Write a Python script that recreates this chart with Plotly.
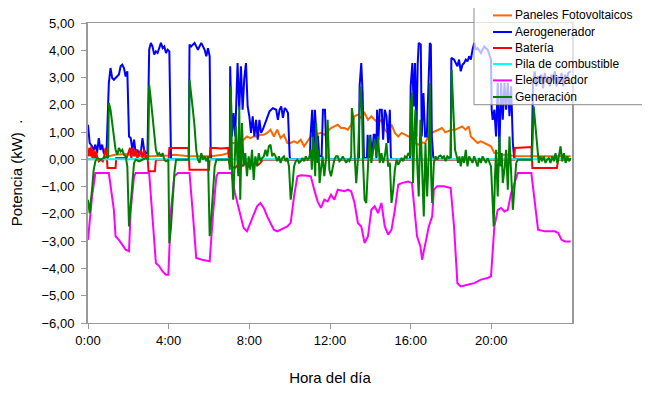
import plotly.graph_objects as go

# time in minutes after midnight, value in kW
paneles = [(0,0.0),(55,0.0),(60,0.11),(80,0.17),(110,0.20),(140,0.14),(175,0.11),(190,0.11),(240,0.14),(257,0.17),(280,0.14),(300,0.11),(340,0.11),(367,0.11),(400,0.17),(417,0.23),(422,0.40),(427,0.60),(440,0.60),(453,0.60),(463,0.72),(473,0.84),(483,0.78),(493,0.84),(503,0.84),(513,0.90),(523,0.90),(533,0.97),(543,1.09),(553,0.84),(563,1.09),(573,0.78),(583,0.90),(593,0.60),(603,0.60),(613,0.66),(623,0.60),(633,0.72),(643,0.48),(653,0.66),(663,0.84),(673,0.90),(693,0.97),(703,0.90),(713,1.03),(723,1.15),(733,1.21),(743,1.27),(753,1.15),(763,1.15),(773,1.09),(783,1.27),(793,1.58),(803,1.64),(813,1.52),(823,1.70),(833,1.45),(843,1.58),(853,1.45),(863,1.33),(873,1.45),(883,1.09),(893,0.97),(903,1.27),(913,0.97),(923,0.84),(933,0.97),(943,0.90),(953,0.84),(963,0.78),(973,0.60),(983,0.54),(993,0.62),(1003,0.60),(1013,0.84),(1023,0.97),(1033,1.03),(1043,1.09),(1053,1.15),(1063,0.99),(1073,1.03),(1083,1.09),(1093,1.09),(1103,1.15),(1113,1.21),(1123,1.09),(1133,1.21),(1139,0.84),(1149,0.72),(1159,0.60),(1169,0.66),(1179,0.60),(1189,0.54),(1199,0.48),(1209,0.23),(1219,0.23),(1229,0.17),(1249,0.17),(1269,0.11),(1329,0.11),(1379,0.11),(1436,0.11)]

aerogenerador = [(0,1.27),(5,0.60),(12,0.48),(17,0.35),(22,0.54),(27,0.23),(32,0.78),(37,0.35),(42,0.54),(47,0.23),(55,0.23),(62,2.80),(67,3.35),(72,2.98),(77,2.92),(87,3.04),(92,3.11),(97,3.41),(102,3.47),(107,3.35),(112,3.04),(117,3.23),(122,0.84),(127,0.78),(132,0.35),(137,0.72),(142,0.23),(147,0.35),(152,0.17),(157,0.23),(162,0.78),(167,0.35),(172,0.23),(177,0.23),(182,4.02),(187,4.27),(192,4.14),(197,3.84),(202,3.96),(207,3.90),(212,4.08),(217,4.27),(222,4.08),(227,4.14),(232,3.90),(237,4.02),(242,3.96),(245,0.23),(247,0.0),(300,0.0),(302,4.21),(307,4.14),(317,4.27),(327,4.02),(337,4.27),(347,4.02),(352,3.78),(357,4.08),(362,3.78),(365,0.23),(367,0.0),(422,0.0),(423,3.41),(428,0.84),(433,1.70),(438,0.84),(445,3.53),(450,1.82),(455,3.41),(460,1.82),(465,2.98),(470,3.53),(475,1.94),(480,1.58),(485,0.97),(490,1.58),(495,0.84),(500,1.45),(505,0.72),(510,1.45),(515,0.97),(520,1.09),(525,1.27),(530,1.45),(535,1.64),(540,1.76),(545,1.82),(550,1.88),(560,1.82),(565,1.45),(570,1.82),(575,1.94),(580,1.52),(585,1.88),(590,1.82),(595,1.70),(600,0.11),(602,0.0),(660,0.0),(662,0.84),(667,1.82),(671,0.11),(675,1.82),(680,0.84),(684,0.84),(688,0.11),(695,0.11),(699,1.82),(705,1.82),(708,0.11),(710,0.0),(806,0.0),(808,2.68),(813,3.53),(817,2.43),(821,0.05),(830,0.05),(832,0.90),(836,0.05),(840,0.90),(845,0.05),(850,0.90),(855,0.90),(858,0.05),(860,1.82),(864,0.72),(868,1.82),(874,1.82),(878,0.72),(883,1.82),(888,1.58),(893,0.60),(898,1.82),(901,0.11),(903,0.0),(958,0.0),(960,2.68),(965,3.53),(969,1.94),(973,3.53),(977,0.84),(981,3.53),(984,4.27),(990,4.21),(993,0.84),(998,2.43),(1003,0.84),(1008,0.84),(1013,2.43),(1017,4.27),(1020,4.21),(1023,0.84),(1027,0.11),(1029,0.0),(1079,0.0),(1081,3.72),(1089,3.66),(1099,3.41),(1104,3.66),(1109,3.23),(1114,3.47),(1119,3.53),(1124,3.66),(1129,3.59),(1134,3.78),(1139,3.66),(1144,4.02),(1149,4.27),(1154,4.02),(1159,4.08),(1169,3.90),(1179,4.14),(1189,4.02),(1199,3.66),(1201,1.82),(1204,1.45),(1209,1.82),(1214,0.84),(1219,2.80),(1224,0.35),(1229,2.80),(1234,1.45),(1239,2.80),(1244,1.82),(1249,2.80),(1254,1.58),(1259,2.68),(1264,0.60),(1268,0.05),(1270,0.0),(1320,0.0),(1324,2.80),(1329,3.23),(1334,2.68),(1339,3.04),(1344,2.80),(1349,3.11),(1354,2.60),(1359,3.17),(1364,2.80),(1369,3.04),(1374,2.68),(1379,3.11),(1384,2.90),(1389,3.23),(1394,2.68),(1399,3.04),(1404,2.80),(1409,3.17),(1414,2.68),(1419,3.11),(1424,2.90),(1429,3.17),(1436,3.23)]

bateria = [(0,0.11),(4,0.42),(7,0.11),(10,0.48),(13,0.05),(17,0.35),(20,-0.01),(24,0.29),(28,0.05),(32,-0.07),(38,-0.01),(44,-0.07),(48,0.11),(52,0.42),(56,0.11),(58,-0.32),(82,-0.32),(84,0.05),(115,0.05),(120,0.23),(125,0.42),(129,0.05),(133,0.42),(138,0.11),(142,0.35),(147,0.05),(152,0.17),(157,0.35),(162,0.05),(167,0.35),(172,0.05),(177,0.17),(180,-0.44),(199,-0.44),(202,-0.01),(240,-0.01),(242,0.42),(270,0.40),(280,0.42),(299,0.42),(302,-0.38),(360,-0.38),(364,0.42),(380,0.42),(395,0.40),(417,0.42),(420,-0.13),(427,-0.26),(437,-0.32),(447,-0.20),(457,-0.26),(467,-0.13),(477,-0.26),(487,-0.20),(497,-0.13),(507,-0.20),(513,-0.13),(520,-0.01),(1268,-0.01),(1270,0.42),(1320,0.45),(1322,-0.32),(1395,-0.32),(1399,-0.01),(1436,-0.01)]

pila = [(0,0.0),(1436,0.0)]

electrolizador = [(0,-2.95),(12,-1.36),(22,-0.50),(62,-0.50),(77,-1.85),(82,-2.82),(92,-2.95),(102,-3.13),(112,-3.31),(122,-3.37),(127,-1.85),(137,-0.62),(142,-0.50),(182,-0.50),(192,-2.09),(202,-3.80),(212,-3.92),(222,-4.11),(232,-4.23),(239,-4.23),(247,-1.85),(257,-0.62),(267,-0.50),(302,-0.50),(312,-2.0),(322,-3.62),(340,-3.68),(362,-3.74),(372,-2.0),(382,-0.62),(387,-0.50),(427,-0.50),(437,-1.23),(447,-1.72),(453,-2.09),(463,-2.52),(473,-2.64),(483,-2.33),(493,-1.97),(503,-1.72),(513,-1.60),(523,-1.78),(533,-2.09),(543,-2.33),(553,-2.58),(563,-2.64),(578,-2.56),(593,-2.46),(603,-2.33),(613,-1.36),(623,-0.62),(633,-0.58),(653,-0.60),(663,-0.62),(673,-1.11),(683,-1.54),(693,-1.78),(703,-1.48),(713,-1.54),(723,-1.30),(733,-1.48),(743,-1.11),(753,-1.14),(763,-1.17),(773,-1.11),(783,-1.17),(793,-1.60),(803,-2.33),(813,-2.46),(823,-3.07),(833,-2.82),(843,-1.85),(853,-1.72),(863,-1.97),(873,-1.60),(883,-2.46),(893,-2.76),(903,-2.58),(913,-1.85),(923,-0.93),(933,-0.87),(953,-0.81),(964,-0.87),(969,-1.48),(979,-2.82),(989,-3.19),(994,-3.68),(1004,-3.07),(1014,-2.46),(1024,-2.09),(1029,-1.11),(1039,-0.99),(1059,-0.99),(1079,-1.05),(1089,-2.46),(1099,-4.54),(1109,-4.66),(1129,-4.60),(1149,-4.54),(1169,-4.41),(1189,-4.35),(1199,-4.29),(1209,-2.46),(1219,-1.85),(1229,-1.78),(1239,-1.91),(1249,-1.85),(1259,-1.23),(1279,-0.50),(1319,-0.50),(1329,-1.60),(1339,-2.58),(1359,-2.64),(1389,-2.64),(1399,-2.70),(1409,-2.95),(1419,-3.01),(1436,-3.01)]

generacion = [(0,-1.48),(5,-1.97),(12,-1.11),(17,-0.38),(22,-0.07),(27,0.05),(37,-0.01),(47,0.05),(57,0.11),(60,0.05),(62,2.07),(67,1.82),(72,1.21),(77,0.84),(82,0.35),(87,0.17),(92,0.42),(97,0.29),(102,0.35),(107,0.17),(112,0.11),(117,-0.26),(122,-2.46),(127,-1.48),(132,-0.87),(137,-0.13),(142,-0.01),(152,-0.07),(162,-0.01),(172,0.05),(179,-0.01),(182,2.74),(187,2.19),(192,1.58),(197,0.84),(202,0.35),(207,0.17),(212,0.23),(217,0.11),(222,0.23),(227,-0.01),(232,-0.07),(239,-0.01),(242,-3.07),(247,-2.46),(252,-1.36),(257,-0.50),(262,-0.01),(300,-0.01),(302,2.92),(307,2.43),(312,1.82),(317,1.21),(322,0.35),(327,-0.01),(332,-0.13),(337,0.23),(342,-0.01),(347,0.11),(352,-0.07),(357,0.11),(362,-2.82),(367,-2.09),(372,-1.11),(377,-0.26),(382,-0.01),(420,-0.01),(422,-0.38),(425,2.68),(429,-0.62),(432,-1.48),(437,0.11),(440,1.21),(445,-0.13),(447,-0.62),(450,1.94),(453,-1.48),(458,1.33),(463,-0.26),(468,0.23),(473,-0.62),(478,0.11),(483,-0.38),(488,0.35),(493,-0.75),(498,0.11),(503,-0.26),(508,0.23),(513,-0.07),(518,0.05),(523,0.11),(528,0.35),(533,0.11),(538,0.48),(543,0.54),(548,0.11),(553,0.23),(558,0.11),(563,-0.07),(568,0.11),(573,-0.13),(578,0.05),(583,0.11),(588,-0.07),(593,0.05),(598,-0.26),(603,-1.48),(608,-0.99),(613,-0.26),(618,-0.07),(623,-0.01),(628,-0.13),(633,-0.07),(638,0.05),(643,-0.07),(648,0.11),(653,-0.01),(658,0.05),(663,0.35),(666,-0.38),(669,0.84),(673,0.11),(676,-0.62),(679,1.33),(683,-0.13),(686,0.35),(689,-0.87),(693,-0.38),(698,0.11),(703,-0.62),(708,-0.01),(713,1.45),(718,-0.38),(723,-0.62),(728,-0.26),(733,-0.01),(738,0.11),(743,0.11),(748,-0.07),(753,-0.01),(758,0.11),(763,-0.01),(768,-0.13),(773,-0.01),(778,-0.07),(783,0.11),(785,1.88),(790,1.45),(793,0.23),(798,-0.87),(803,-0.01),(808,1.82),(811,2.68),(815,1.82),(818,-0.01),(823,-1.48),(828,-1.60),(833,-0.26),(838,0.84),(843,-0.13),(848,0.23),(853,0.72),(858,0.11),(863,0.84),(868,-0.13),(873,0.23),(878,-0.13),(883,0.11),(888,0.60),(893,-0.26),(898,-0.13),(903,-1.60),(908,-1.11),(913,-0.38),(918,-0.01),(923,-0.20),(928,-0.07),(933,0.05),(938,-0.07),(943,0.11),(948,0.05),(953,0.23),(959,0.11),(961,2.07),(964,2.43),(967,-0.87),(971,0.84),(974,1.82),(979,-0.01),(984,-1.36),(989,1.45),(994,-0.62),(999,-2.09),(1004,0.60),(1009,-1.36),(1014,0.23),(1017,2.80),(1021,-0.62),(1024,-1.60),(1029,-0.13),(1034,0.11),(1039,-0.01),(1044,0.11),(1049,0.14),(1054,0.05),(1059,0.11),(1064,-0.07),(1069,0.11),(1074,0.05),(1079,0.11),(1082,3.29),(1087,1.82),(1092,0.35),(1097,0.11),(1101,-0.13),(1105,0.11),(1109,-0.26),(1114,0.11),(1119,-0.13),(1124,0.35),(1129,-0.26),(1134,0.11),(1139,-0.01),(1144,-0.13),(1149,0.11),(1154,-0.07),(1159,-0.26),(1164,0.05),(1169,-0.13),(1174,0.11),(1179,-0.01),(1184,-0.13),(1189,0.05),(1194,-0.13),(1199,-0.26),(1204,-1.60),(1207,-2.46),(1211,-0.62),(1214,0.35),(1219,-1.36),(1224,0.84),(1227,-0.26),(1231,0.23),(1234,-0.87),(1239,-0.38),(1244,0.35),(1249,-1.11),(1254,0.84),(1259,-0.26),(1264,-1.85),(1269,-0.99),(1274,-0.13),(1279,-0.01),(1321,-0.01),(1326,1.94),(1331,1.33),(1336,0.48),(1341,-0.13),(1346,0.11),(1351,-0.07),(1356,0.11),(1361,-0.13),(1366,-0.01),(1371,0.05),(1376,-0.13),(1381,0.11),(1386,-0.07),(1391,0.23),(1396,-0.13),(1401,0.11),(1406,0.48),(1411,-0.07),(1416,0.23),(1421,-0.13),(1426,0.11),(1431,-0.07),(1436,0.05)]

tick_minutes = [0, 240, 480, 720, 960, 1200]
tick_labels = ["0:00", "4:00", "8:00", "12:00", "16:00", "20:00"]

series_names = ["Paneles Fotovoltaicos", "Aerogenerador", "Batería",
                "Pila de combustible", "Electrolizador", "Generación"]
series_data = [paneles, aerogenerador, bateria, pila, electrolizador, generacion]
series_colors = ["#FF6600", "#0000FF", "#FF0000", "#00FFFF", "#FF00FF", "#008000"]

FONT = "Arial, Liberation Sans, sans-serif"

fig = go.Figure()
for name, pts, color in zip(series_names, series_data, series_colors):
    fig.add_trace(go.Scatter(
        x=[p[0] for p in pts], y=[p[1] for p in pts], mode="lines", name=name,
        line=dict(color=color, width=2), showlegend=False,
    ))

# Legend drawn as a semi-transparent box over the plot (paper coordinates)
shapes = [dict(type="rect", xref="paper", yref="paper", x0=0.7975, x1=1.1508,
               y0=0.7277, y1=1.0543, fillcolor="rgba(255,255,255,0.72)",
               line=dict(color="#8c8c8c", width=1), layer="above")]
annotations = []
row_y = [1.0253, 0.9700, 0.9167, 0.8633, 0.8087, 0.7533]
for name, color, yy in zip(series_names, series_colors, row_y):
    shapes.append(dict(type="line", xref="paper", yref="paper", x0=0.8368, x1=0.8760,
                       y0=yy, y1=yy, line=dict(color=color, width=2), layer="above"))
    annotations.append(dict(xref="paper", yref="paper", x=0.8780, y=yy, text=name,
                            showarrow=False, xanchor="left", yanchor="middle",
                            font=dict(family=FONT, size=12, color="#000000")))

fig.update_layout(
    width=642, height=388,
    margin=dict(l=80, r=78, t=15, b=73, autoexpand=False),
    paper_bgcolor="white", plot_bgcolor="white",
    separators=", ",
    font=dict(family=FONT, size=13, color="#000000"),
    shapes=shapes, annotations=annotations,
    xaxis=dict(
        range=[0, 1440], tickmode="array", tickvals=tick_minutes, ticktext=tick_labels,
        showgrid=False, zeroline=False, showline=True, linecolor="#999999", linewidth=1,
        mirror=True, ticks="outside", ticklen=5, tickcolor="#999999",
        title=dict(text="Hora del día", font=dict(size=15), standoff=25),
        tickfont=dict(size=13),
    ),
    yaxis=dict(
        range=[-6, 5], dtick=1, tick0=0, tickformat=".2f",
        showgrid=False, zeroline=False, showline=True, linecolor="#999999", linewidth=2,
        mirror=True, ticks="outside", ticklen=5, tickcolor="#999999",
        ticklabelstandoff=4,
        title=dict(text="Potencia (kW)  .", font=dict(size=15), standoff=17),
        tickfont=dict(size=13),
    ),
)

fig.write_html("out.html")
